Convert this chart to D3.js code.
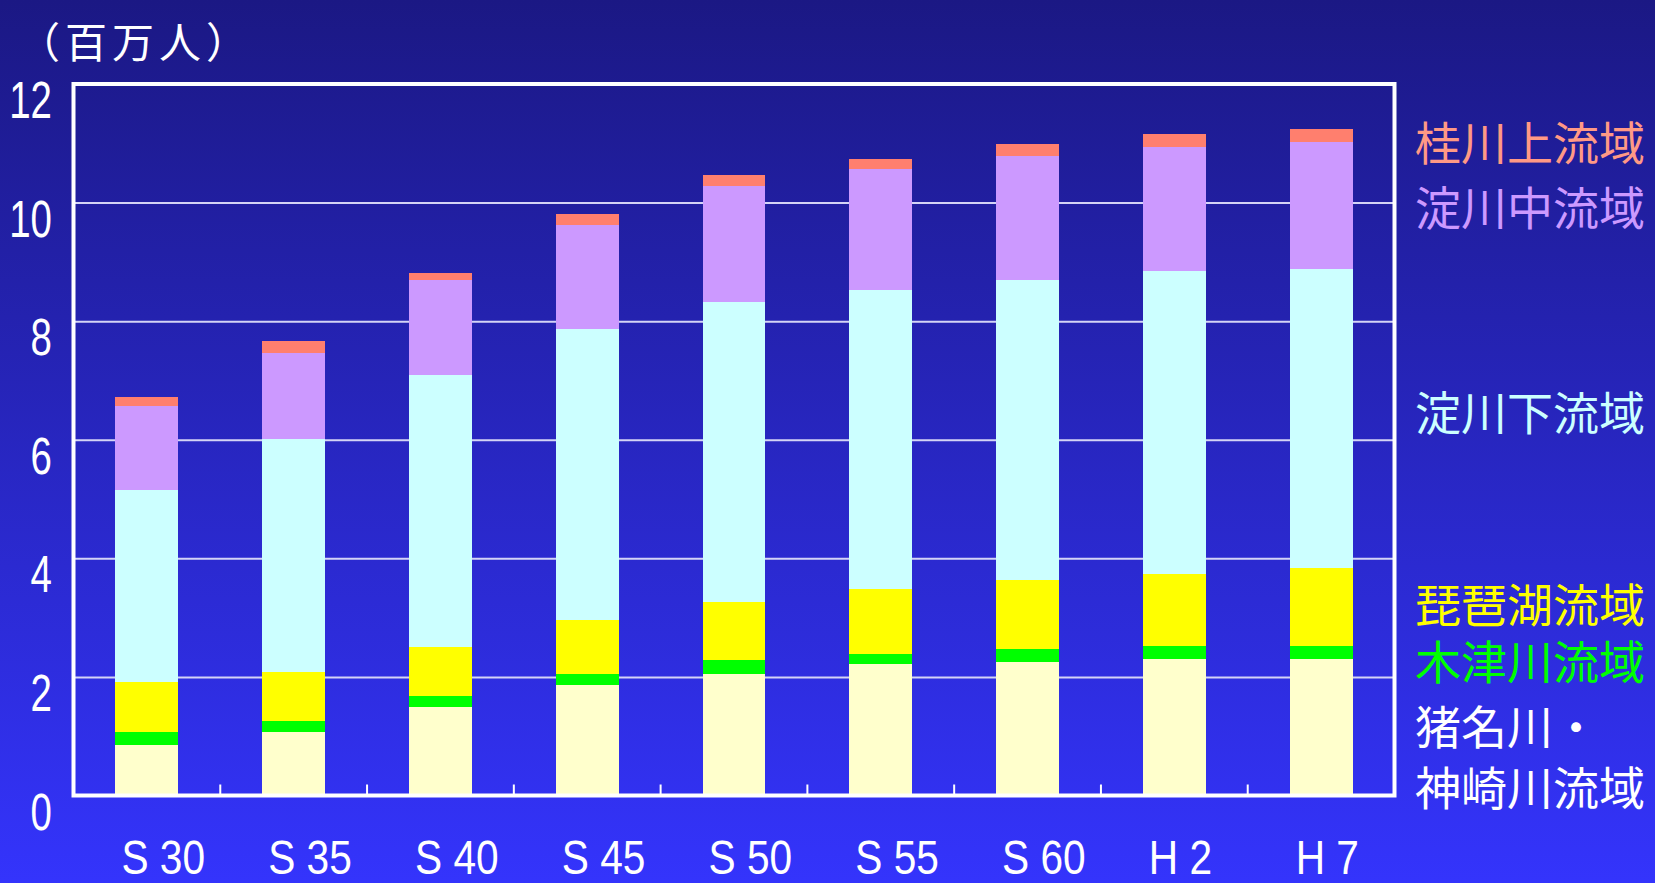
<!DOCTYPE html>
<html>
<head>
<meta charset="utf-8">
<script src="https://cdn.jsdelivr.net/npm/d3@7"></script>
<style>
  body { margin: 0; background: #2a28c8; }
  svg { display: block; }
</style>
</head>
<body>
<svg class="main-svg"></svg>
<script>
// population by river basin (million people)
var years = ['S 30', 'S 35', 'S 40', 'S 45', 'S 50', 'S 55', 'S 60', 'H 2', 'H 7'];

var inaKanzaki = [0.86, 1.07, 1.50, 1.87, 2.05, 2.21, 2.26, 2.30, 2.30];
var kizu       = [0.21, 0.18, 0.18, 0.18, 0.24, 0.17, 0.21, 0.22, 0.22];
var biwako     = [0.84, 0.84, 0.83, 0.91, 0.98, 1.11, 1.17, 1.21, 1.31];
var yodoLower  = [3.25, 3.92, 4.58, 4.91, 5.06, 5.04, 5.06, 5.12, 5.05];
var yodoMiddle = [1.41, 1.46, 1.61, 1.76, 1.95, 2.04, 2.09, 2.08, 2.14];
var katsuraUp  = [0.15, 0.20, 0.12, 0.18, 0.18, 0.16, 0.20, 0.22, 0.22];

var yTicks = [0, 2, 4, 6, 8, 10, 12];
var unitLabel = '（百万人）';

// bottom to top
var series = [
  { key: 'inaKanzaki', name: ['猪名川・', '神崎川流域'], values: inaKanzaki, fill: '#ffffcc', text: '#ffffff' },
  { key: 'kizu',       name: ['木津川流域'], values: kizu,       fill: '#00ff00', text: '#00ff00' },
  { key: 'biwako',     name: ['琵琶湖流域'], values: biwako,     fill: '#ffff00', text: '#ffff00' },
  { key: 'yodoLower',  name: ['淀川下流域'], values: yodoLower,  fill: '#ccffff', text: '#ccffff' },
  { key: 'yodoMiddle', name: ['淀川中流域'], values: yodoMiddle, fill: '#cc99ff', text: '#cc99ff' },
  { key: 'katsuraUp',  name: ['桂川上流域'], values: katsuraUp,  fill: '#ff7f6e', text: '#ff9985' }
];
// legend line centres (px), top of the page downwards
var legendY = { katsuraUp: [140], yodoMiddle: [205], yodoLower: [410], biwako: [602], kizu: [659], inaKanzaki: [724, 785] };

var width = 1655, height = 883;
var plotLeft = 73.5, plotRight = 1394.5, plotTop = 84, plotBottom = 795.5;
var outerPad = 0.2855;
var narrowFont = '"Liberation Sans", Arial, sans-serif';

var d3 = window.d3;

var svg = d3.select('.main-svg')
  .attr('width', width)
  .attr('height', height);

var grad = svg.append('defs').append('linearGradient')
  .attr('id', 'bg').attr('x1', 0).attr('y1', 0).attr('x2', 0).attr('y2', 1);
grad.append('stop').attr('offset', '0%').attr('stop-color', '#1b1884');
grad.append('stop').attr('offset', '100%').attr('stop-color', '#3434fc');

svg.append('rect').attr('width', width).attr('height', height).attr('fill', 'url(#bg)');

var x = d3.scaleBand()
  .domain(years)
  .range([plotLeft, plotRight])
  .paddingInner(0.571)
  .paddingOuter(outerPad);

var y = d3.scaleLinear().domain([0, 12]).range([plotBottom, plotTop]);

// grid lines
svg.append('g')
  .attr('transform', 'translate(' + plotLeft + ',0)')
  .call(d3.axisRight(y).tickValues(yTicks.filter(d => d > 0 && d < 12)).tickSize(plotRight - plotLeft).tickFormat(''))
  .call(g => g.select('.domain').remove())
  .selectAll('line')
  .attr('stroke', '#d4d4f6')
  .attr('stroke-width', 2);

// stacked bars
var stack = d3.stack().keys(series.map(s => s.key));
var rows = years.map((yr, i) => {
  var r = { year: yr };
  series.forEach(s => { r[s.key] = s.values[i]; });
  return r;
});
var layers = stack(rows);

svg.append('g')
  .attr('shape-rendering', 'crispEdges')
  .selectAll('g')
  .data(layers)
  .enter()
  .append('g')
  .attr('fill', (d, i) => series[i].fill)
  .selectAll('rect')
  .data(d => d)
  .enter()
  .append('rect')
  .attr('x', d => x(d.data.year))
  .attr('width', x.bandwidth())
  .attr('y', d => y(d[1]))
  .attr('height', d => y(d[0]) - y(d[1]));

// small ticks between the bars
var step = x.step();
svg.append('g').selectAll('line')
  .data(years.slice(1))
  .enter()
  .append('line')
  .attr('x1', d => x(d) - step * outerPad)
  .attr('x2', d => x(d) - step * outerPad)
  .attr('y1', plotBottom)
  .attr('y2', plotBottom - 11)
  .attr('stroke', '#ffffff')
  .attr('stroke-width', 2);

// frame
svg.append('rect')
  .attr('x', plotLeft).attr('y', plotTop)
  .attr('width', plotRight - plotLeft).attr('height', plotBottom - plotTop)
  .attr('fill', 'none')
  .attr('stroke', '#ffffff')
  .attr('stroke-width', 4);

// y labels (condensed)
svg.append('g').selectAll('text')
  .data(yTicks)
  .enter()
  .append('text')
  .attr('transform', d => 'translate(52,' + (y(d) + 34) + ') scale(0.74,1)')
  .attr('text-anchor', 'end')
  .attr('fill', '#ffffff')
  .style('font-family', narrowFont)
  .style('font-size', '52px')
  .text(d => d);

// x labels (condensed)
svg.append('g').selectAll('text')
  .data(years)
  .enter()
  .append('text')
  .attr('transform', d => 'translate(' + (x(d) + 6) + ',874) scale(0.83,1)')
  .attr('fill', '#ffffff')
  .style('font-family', narrowFont)
  .style('font-size', '49px')
  .text(d => d);

// unit
svg.append('text')
  .attr('x', 18)
  .attr('y', 39)
  .attr('dominant-baseline', 'central')
  .attr('fill', '#ffffff')
  .style('font-family', '"Noto Sans CJK JP", sans-serif')
  .style('font-size', '42px')
  .style('letter-spacing', '5px')
  .text(unitLabel);

// legend labels on the right
var legend = svg.append('g')
  .style('font-family', '"Noto Sans CJK JP", sans-serif')
  .style('font-size', '46px');

series.forEach(s => {
  s.name.forEach((line, j) => {
    legend.append('text')
      .attr('x', 1415)
      .attr('y', legendY[s.key][j])
      .attr('dominant-baseline', 'central')
      .attr('fill', s.text)
      .text(line);
  });
});
</script>
</body>
</html>
